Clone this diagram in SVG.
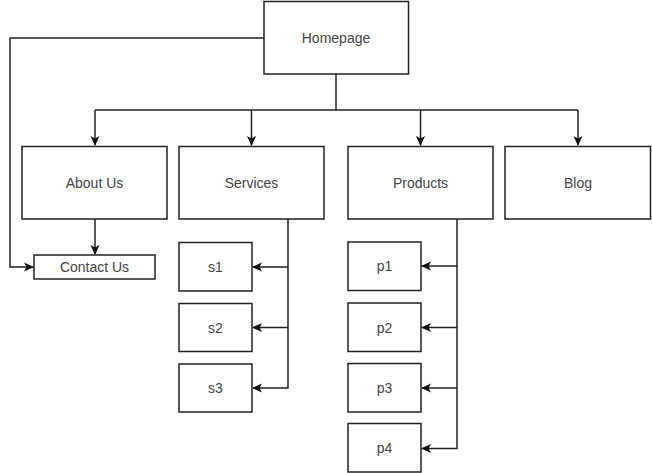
<svg xmlns="http://www.w3.org/2000/svg" width="652" height="473" viewBox="0 0 652 473">
<style>
.box{fill:#fff;stroke:#222;stroke-width:1.5}
.lbl{font-family:"Liberation Sans",Arial,sans-serif;font-size:14px;fill:#444;text-anchor:middle;dominant-baseline:central}
.edge{fill:none;stroke:#222;stroke-width:1.5}
</style>
<defs>
<marker id="arr" viewBox="0 0 10 10" refX="9" refY="5" markerWidth="10" markerHeight="10" markerUnits="userSpaceOnUse" orient="auto">
<path d="M0,0.5 L10,5 L0,9.5 L2.5,5 Z" fill="#111"/>
</marker>
</defs>
<rect width="652" height="473" fill="#fff"/>
<g id="connectors">
<path class="edge" d="M264,38 H10 V267 H33" marker-end="url(#arr)"/>
<path class="edge" d="M336,74 V110"/>
<path class="edge" d="M95,110 H578"/>
<path class="edge" d="M95,110 V145" marker-end="url(#arr)"/>
<path class="edge" d="M251.5,110 V145" marker-end="url(#arr)"/>
<path class="edge" d="M420.5,110 V145" marker-end="url(#arr)"/>
<path class="edge" d="M578,110 V145" marker-end="url(#arr)"/>
<path class="edge" d="M95,219 V254" marker-end="url(#arr)"/>
<path class="edge" d="M288,219 V388 H253" marker-end="url(#arr)"/>
<path class="edge" d="M288,267 H253" marker-end="url(#arr)"/>
<path class="edge" d="M288,327.5 H253" marker-end="url(#arr)"/>
<path class="edge" d="M457,219 V448.5 H422" marker-end="url(#arr)"/>
<path class="edge" d="M457,266 H422" marker-end="url(#arr)"/>
<path class="edge" d="M457,327.5 H422" marker-end="url(#arr)"/>
<path class="edge" d="M457,388 H422" marker-end="url(#arr)"/>
</g>
<g id="homepage"><rect class="box" x="264" y="1.5" width="144.5" height="72.5"/><text class="lbl" x="336" y="38">Homepage</text></g>
<g id="about"><rect class="box" x="22" y="146.5" width="145" height="72.5"/><text class="lbl" x="94.5" y="183">About Us</text></g>
<g id="services"><rect class="box" x="179" y="146.5" width="145" height="72.5"/><text class="lbl" x="251.5" y="183">Services</text></g>
<g id="products"><rect class="box" x="348" y="146.5" width="145" height="72.5"/><text class="lbl" x="420.5" y="183">Products</text></g>
<g id="blog"><rect class="box" x="505" y="146.5" width="145.5" height="72.5"/><text class="lbl" x="578" y="183">Blog</text></g>
<g id="contact"><rect class="box" x="34" y="255" width="121" height="24"/><text class="lbl" x="94.5" y="267">Contact Us</text></g>
<g id="s1"><rect class="box" x="179" y="242.5" width="73" height="48.5"/><text class="lbl" x="215.5" y="267">s1</text></g>
<g id="s2"><rect class="box" x="179" y="303.5" width="73" height="48"/><text class="lbl" x="215.5" y="327.5">s2</text></g>
<g id="s3"><rect class="box" x="179" y="364" width="73" height="48"/><text class="lbl" x="215.5" y="388">s3</text></g>
<g id="p1"><rect class="box" x="348" y="242" width="73" height="48.5"/><text class="lbl" x="384.5" y="266">p1</text></g>
<g id="p2"><rect class="box" x="348" y="303" width="73" height="48.5"/><text class="lbl" x="384.5" y="327.5">p2</text></g>
<g id="p3"><rect class="box" x="348" y="363.5" width="73" height="48.5"/><text class="lbl" x="384.5" y="388">p3</text></g>
<g id="p4"><rect class="box" x="348" y="423.5" width="73" height="48.5"/><text class="lbl" x="384.5" y="448">p4</text></g>
</svg>
